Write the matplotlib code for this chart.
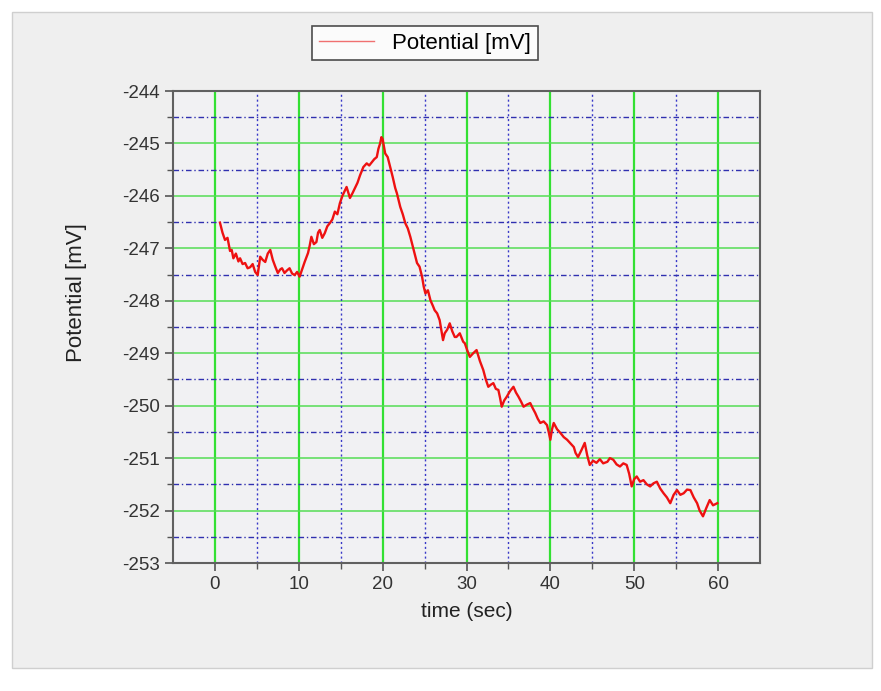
import numpy as np
import matplotlib.pyplot as plt
from matplotlib.patches import Rectangle

# values
time_sec = [0.6, 0.9, 1.2, 1.5, 1.8, 2.0, 2.2, 2.5, 2.8, 3.0, 3.3, 3.6, 3.9, 4.2, 4.5,
            4.8, 5.1, 5.4, 5.7, 6.0, 6.3, 6.6, 6.9, 7.2, 7.5, 7.8, 8.0, 8.3, 8.6, 8.9,
            9.2, 9.5, 9.8, 10.1, 10.4, 10.7, 11.1, 11.3, 11.5, 11.8, 12.1, 12.3, 12.5,
            12.8, 13.1, 13.4, 13.7, 14.0, 14.3, 14.6, 14.9, 15.2, 15.5, 15.7, 16.1,
            16.4, 16.7, 17.0, 17.3, 17.7, 18.1, 18.4, 18.7, 19.0, 19.3, 19.5, 19.7,
            19.85, 20.0, 20.15, 20.3, 20.6, 20.9, 21.2, 21.5, 21.7, 22.1, 22.4, 22.7,
            23.0, 23.3, 23.7, 24.1, 24.4, 24.7, 24.9, 25.1, 25.4, 25.7, 26.0, 26.2,
            26.5, 26.8, 27.2, 27.4, 27.7, 28.0, 28.3, 28.6, 28.8, 29.2, 29.6, 29.8,
            30.1, 30.4, 30.8, 31.2, 31.6, 32.0, 32.3, 32.6, 32.9, 33.2, 33.5, 33.8,
            34.0, 34.2, 34.5, 34.8, 35.2, 35.6, 35.9, 36.2, 36.5, 36.8, 37.2, 37.6,
            37.9, 38.2, 38.5, 38.8, 39.2, 39.6, 39.8, 40.0, 40.2, 40.4, 40.8, 41.2,
            41.6, 42.0, 42.4, 42.8, 43.0, 43.3, 43.7, 44.1, 44.4, 44.7, 45.1, 45.5,
            45.9, 46.3, 46.8, 47.1, 47.5, 47.9, 48.3, 48.7, 49.1, 49.4, 49.7, 50.0,
            50.3, 50.7, 51.1, 51.5, 51.9, 52.3, 52.7, 53.1, 53.5, 53.9, 54.3, 54.7,
            55.1, 55.5, 55.9, 56.3, 56.7, 57.1, 57.5, 57.8, 58.2, 58.6, 59.0, 59.4, 59.9]

potential_mv = [-246.51, -246.70, -246.84, -246.80, -247.05, -247.03, -247.19, -247.10,
                -247.25, -247.19, -247.30, -247.28, -247.38, -247.36, -247.30, -247.45,
                -247.51, -247.16, -247.22, -247.26, -247.10, -247.03, -247.22, -247.35,
                -247.47, -247.40, -247.38, -247.47, -247.42, -247.38, -247.48, -247.51,
                -247.45, -247.54, -247.40, -247.26, -247.09, -246.95, -246.78, -246.92,
                -246.88, -246.70, -246.65, -246.80, -246.71, -246.58, -246.52, -246.45,
                -246.30, -246.35, -246.14, -246.00, -245.90, -245.83, -246.04, -245.95,
                -245.85, -245.75, -245.61, -245.45, -245.38, -245.42, -245.36, -245.30,
                -245.26, -245.10, -245.00, -244.88, -244.92, -245.05, -245.19, -245.26,
                -245.45, -245.64, -245.85, -245.95, -246.21, -246.35, -246.52, -246.62,
                -246.78, -247.03, -247.28, -247.35, -247.54, -247.73, -247.86, -247.80,
                -247.99, -248.10, -248.18, -248.24, -248.37, -248.75, -248.62, -248.55,
                -248.43, -248.58, -248.69, -248.69, -248.62, -248.78, -248.81, -248.95,
                -249.07, -249.00, -248.94, -249.15, -249.32, -249.50, -249.64, -249.60,
                -249.57, -249.68, -249.70, -249.85, -250.02, -249.90, -249.83, -249.72,
                -249.64, -249.75, -249.83, -249.92, -250.02, -249.98, -249.95, -250.05,
                -250.14, -250.25, -250.33, -250.30, -250.37, -250.50, -250.65, -250.45,
                -250.33, -250.45, -250.52, -250.60, -250.65, -250.72, -250.79, -250.90,
                -250.98, -250.85, -250.71, -250.95, -251.13, -251.05, -251.09, -251.02,
                -251.10, -251.07, -251.00, -251.03, -251.12, -251.16, -251.10, -251.13,
                -251.30, -251.54, -251.40, -251.35, -251.45, -251.42, -251.50, -251.54,
                -251.48, -251.45, -251.58, -251.67, -251.75, -251.86, -251.70, -251.61,
                -251.70, -251.67, -251.60, -251.61, -251.75, -251.86, -252.00, -252.11,
                -251.95, -251.80, -251.90, -251.86]

x_major = [0, 10, 20, 30, 40, 50, 60]
x_minor = [5, 15, 25, 35, 45, 55]
y_major = [-253, -252, -251, -250, -249, -248, -247, -246, -245, -244]
y_minor = [-252.5, -251.5, -250.5, -249.5, -248.5, -247.5, -246.5, -245.5, -244.5]

plt.rcParams['font.family'] = ['Liberation Sans', 'DejaVu Sans']
plt.rcParams['axes.unicode_minus'] = False

fig = plt.figure(figsize=(8.81, 6.91), dpi=100, facecolor='white')
# grey panel behind the chart
fig.patches.append(Rectangle((12 / 881, 23 / 691), 860 / 881, 656 / 691,
                             transform=fig.transFigure, facecolor='#efefef',
                             edgecolor='#cfcfcf', linewidth=1.0, zorder=-10))

ax = fig.add_axes([173 / 881, 1 - 563 / 691, 587 / 881, 472 / 691])
ax.set_facecolor('#f1f1f3')

ax.set_xlim(-5, 65)
ax.set_ylim(-253, -244)

# grid lines
for xv in x_major:
    ax.axvline(xv, color='#33e033', lw=1.6, zorder=1)
for yv in y_major[1:-1]:
    ax.axhline(yv, color='#55dd55', lw=1.1, zorder=1)
for xv in x_minor:
    ax.axvline(xv, color='#3838c8', lw=1.0, ls=(0, (1.5, 2.0)), zorder=1)
for yv in y_minor:
    ax.axhline(yv, color='#3030b0', lw=1.0, ls=(0, (4, 2, 1, 2)), zorder=1)

ax.plot(time_sec, potential_mv, color='#ee1111', lw=1.7, zorder=3,
        label='Potential [mV]')

ax.set_xticks(x_major)
ax.set_xticks(x_minor, minor=True)
ax.set_yticks(y_major)
ax.set_yticks(y_minor, minor=True)
ax.tick_params(which='major', direction='out', length=6, width=1.2,
               color='#555555', labelsize=13.5, labelcolor='#333333')
ax.tick_params(which='minor', direction='out', length=4, width=1.0, color='#555555')
for s in ax.spines.values():
    s.set_color('#606060')
    s.set_linewidth(1.5)

ax.set_xlabel('time (sec)', fontsize=15, color='#222222', labelpad=6)
ax.set_ylabel('Potential [mV]', fontsize=16, color='#222222')
ax.yaxis.set_label_coords(-0.147, 0.574)

leg = fig.legend(loc='center', bbox_to_anchor=(425 / 881, 1 - 43 / 691),
                 fontsize=16, frameon=True, fancybox=False, handlelength=2.5,
                 borderpad=0.3, handletextpad=0.8)
leg.get_frame().set_edgecolor('#222222')
leg.get_frame().set_linewidth(1.2)
for line in leg.get_lines():
    line.set_linewidth(1.0)
    line.set_color('#f07070')

fig.savefig('out.png', dpi=100, facecolor=fig.get_facecolor())
